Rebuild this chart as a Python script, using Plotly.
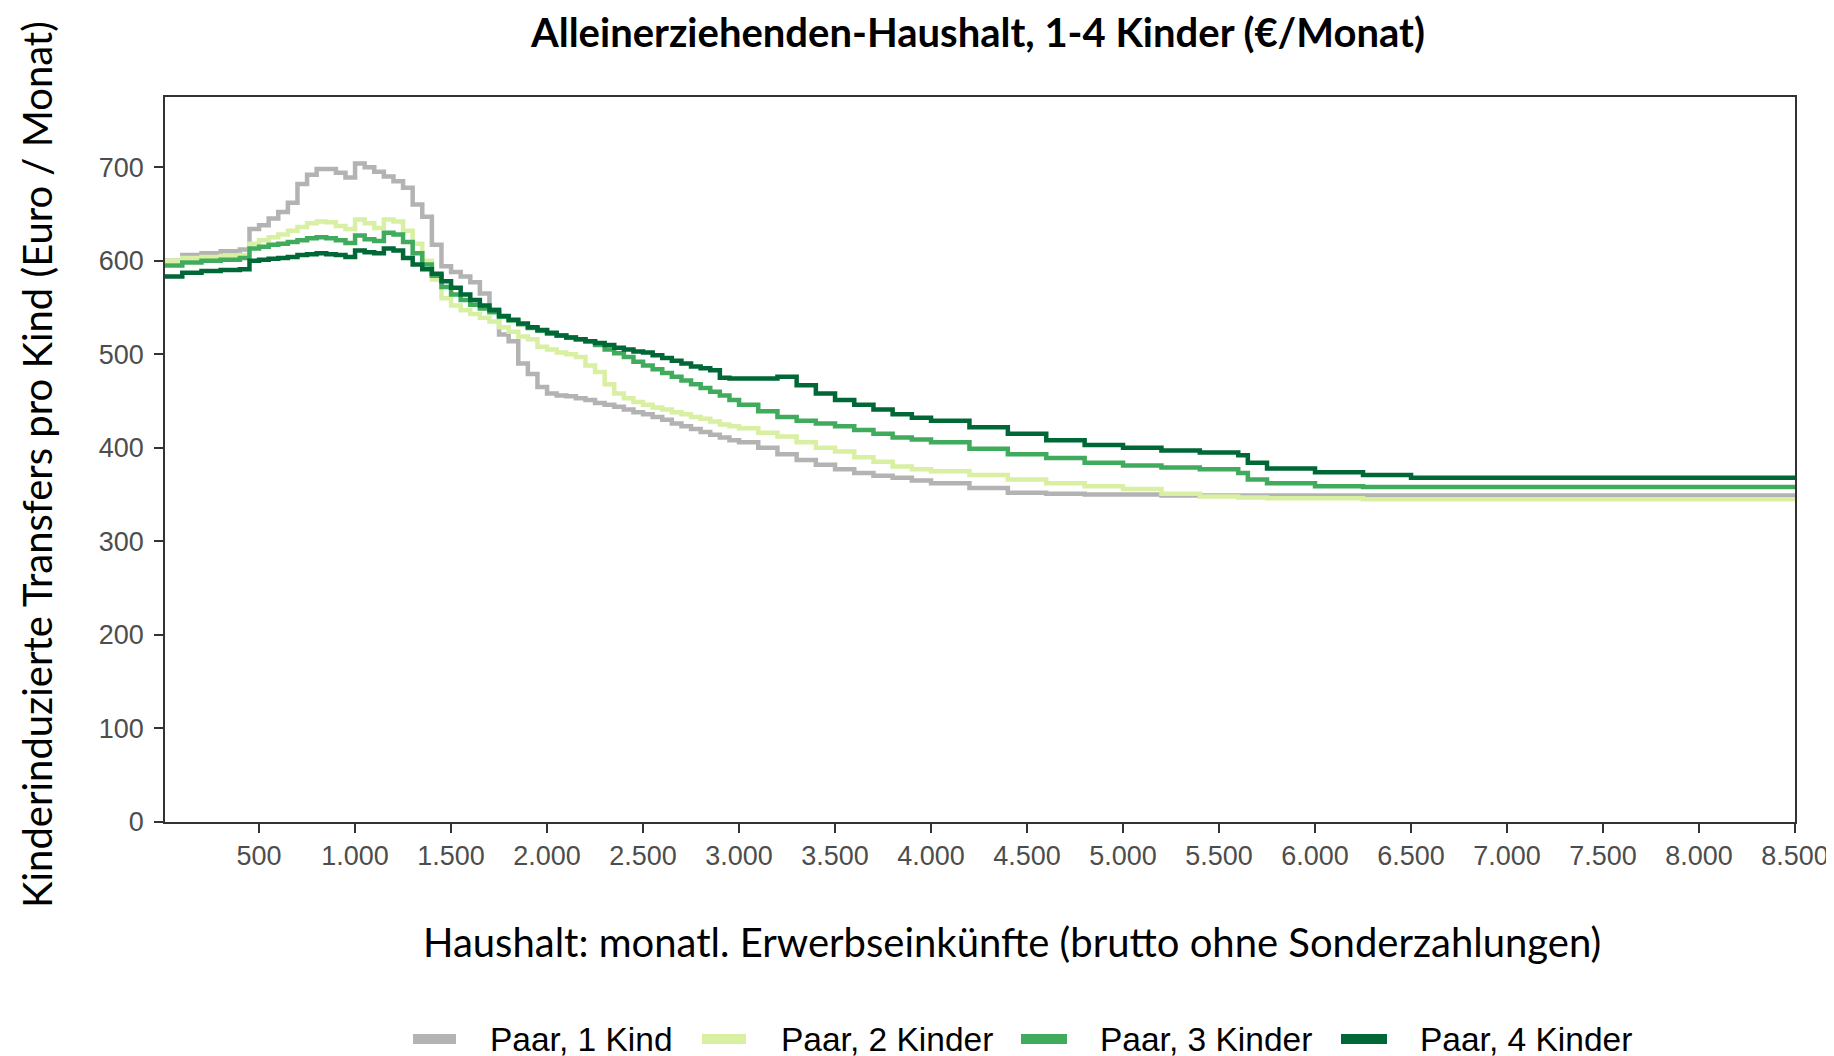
import plotly.graph_objects as go

# Einkommen (EUR/Monat), Stufen
einkommen = [10, 100, 200, 300, 400, 450, 500, 550, 600, 650, 700, 750, 800, 850, 900, 950,
             1000, 1050, 1100, 1150, 1200, 1250, 1300, 1350, 1400, 1450, 1500, 1550, 1600,
             1650, 1700, 1750, 1800, 1850, 1900, 1950,
             2000, 2050, 2100, 2150, 2200, 2250, 2300, 2350, 2400, 2450, 2500,
             2550, 2600, 2650, 2700, 2750, 2800, 2850, 2900, 2950,
             3000, 3100, 3200, 3300, 3400, 3500, 3600, 3700, 3800,
             3900, 4000, 4200, 4400, 4600, 4800, 5000, 5200, 5400, 5600, 5650, 5750, 6000,
             6250, 6500, 7000, 8500]

kind_1 = [600, 606, 608, 610, 612, 634, 638, 645, 652, 662, 682, 692, 698, 698, 694, 689,
          704, 700, 695, 690, 685, 678, 660, 647, 617, 594, 588, 583, 577,
          565, 548, 521, 514, 490, 479, 465,
          458, 456, 455, 453, 451, 448, 446, 444, 441, 438, 436,
          433, 430, 426, 423, 420, 417, 414, 411, 408,
          406, 400, 393, 387, 382, 377, 373, 370, 368,
          365, 362, 357, 352, 351, 350, 350, 349, 349, 349, 349, 349, 349,
          349, 349, 349, 349]

kinder_2 = [600, 603, 604, 605, 606, 618, 622, 625, 628, 632, 636, 640, 642, 641, 637, 634,
            644, 640, 635, 644, 642, 632, 618, 600, 580, 560, 552, 547, 543,
            539, 535, 529, 524, 519, 516, 508,
            505, 502, 500, 497, 488, 481, 468, 458, 453, 449, 446,
            443, 441, 438, 436, 433, 431, 428, 425, 423,
            421, 416, 412, 406, 400, 396, 390, 385, 380,
            377, 375, 371, 366, 362, 359, 356, 351, 348, 347, 347, 346, 346,
            345, 345, 345, 345]

kinder_3 = [595, 598, 600, 601, 603, 613, 615, 617, 618, 620, 622, 624, 625, 624, 622, 619,
            627, 623, 621, 630, 628, 620, 608, 596, 584, 572, 564, 558, 553,
            549, 545, 540, 536, 532, 528, 525,
            522, 520, 518, 516, 514, 510, 505, 501, 497, 492, 488,
            484, 480, 476, 472, 468, 464, 460, 456, 451,
            446, 439, 433, 429, 426, 423, 419, 415, 411,
            409, 406, 399, 393, 389, 384, 381, 379, 377, 373, 366, 362, 359,
            358, 358, 358, 358]

kinder_4 = [583, 587, 589, 590, 591, 600, 601, 602, 603, 604, 606, 607, 608, 607, 606, 604,
            611, 609, 608, 613, 611, 603, 596, 591, 586, 578, 571, 564, 558,
            552, 547, 541, 537, 533, 529, 526,
            523, 520, 518, 516, 514, 512, 510, 507, 505, 503, 502,
            499, 496, 493, 490, 487, 485, 483, 475, 474,
            474, 474, 476, 467, 458, 451, 446, 441, 436,
            432, 429, 422, 415, 408, 403, 400, 397, 395, 392, 384, 378, 374,
            371, 368, 368, 368]

namen = ["Paar, 1 Kind", "Paar, 2 Kinder", "Paar, 3 Kinder", "Paar, 4 Kinder"]
farben = ["#b3b3b3", "#d9f0a3", "#41ab5d", "#006837"]

x_ticks = [500, 1000, 1500, 2000, 2500, 3000, 3500, 4000, 4500, 5000, 5500, 6000, 6500,
           7000, 7500, 8000, 8500]
x_labels = ["500", "1.000", "1.500", "2.000", "2.500", "3.000", "3.500", "4.000", "4.500",
            "5.000", "5.500", "6.000", "6.500", "7.000", "7.500", "8.000", "8.500"]
y_ticks = [0, 100, 200, 300, 400, 500, 600, 700]

# Plotbereich im Fenster (px) -> Papierkoordinaten
PL, PW, PB, PH = 165, 1630, 822, 725


def px(wx):
    return (wx - PL) / PW


def py(wy):
    return (PB - wy) / PH


fig = go.Figure()

for name, werte, farbe in zip(namen, [kind_1, kinder_2, kinder_3, kinder_4], farben):
    fig.add_trace(go.Scatter(
        x=einkommen, y=werte, mode="lines", name=name,
        line=dict(color=farbe, width=4.5, shape="hv"), showlegend=False
    ))

axis_common = dict(
    showline=True, linecolor="#333333", linewidth=1.5, mirror=True,
    ticks="outside", ticklen=9, tickwidth=2, tickcolor="#333333",
    showgrid=False, zeroline=False, automargin=False,
    tickfont=dict(family="Liberation Sans, Arial", size=27, color="#4d4d4d"),
)

fig.update_xaxes(range=[10, 8500], tickvals=x_ticks, ticktext=x_labels,
                 ticklabelstandoff=0, **axis_common)
fig.update_yaxes(range=[0, 775], tickvals=y_ticks, ticklabelstandoff=5, **axis_common)

# Legende von Hand: Farbbalken + Text
swatch_x = [(413, 456), (702, 746), (1021, 1067), (1341, 1387)]
text_x = [488, 779, 1098, 1418]
legend_y = 1039

shapes = []
annotations = []
for (x0, x1), tx, name, farbe in zip(swatch_x, text_x, namen, farben):
    shapes.append(dict(type="line", xref="paper", yref="paper",
                       x0=px(x0), x1=px(x1), y0=py(legend_y), y1=py(legend_y),
                       line=dict(color=farbe, width=10)))
    annotations.append(dict(text=name, xref="paper", yref="paper", x=px(tx), y=py(legend_y),
                            showarrow=False, xanchor="left", yanchor="middle",
                            font=dict(family="Liberation Sans, Arial", size=33.5, color="black")))

calibri = "Lato, Open Sans, sans-serif"
annotations += [
    dict(text="<b>Alleinerziehenden-Haushalt, 1-4 Kinder (€/Monat)</b>",
         xref="paper", yref="paper", x=px(977), y=py(31.6), showarrow=False,
         xanchor="center", yanchor="middle",
         font=dict(family=calibri, size=40, color="black")),
    dict(text="Haushalt: monatl. Erwerbseinkünfte (brutto ohne Sonderzahlungen)",
         xref="paper", yref="paper", x=px(1012), y=py(941.5), showarrow=False,
         xanchor="center", yanchor="middle",
         font=dict(family=calibri, size=40, color="black")),
    dict(text="Kinderinduzierte Transfers pro Kind (Euro / Monat)",
         xref="paper", yref="paper", x=px(37), y=py(465), showarrow=False,
         xanchor="center", yanchor="middle", textangle=-90,
         font=dict(family=calibri, size=40, color="black")),
]

# die Seite hat 8px Rand, daher Plotbereich um 8px verschoben
fig.update_layout(
    width=1834, height=1056,
    margin=dict(l=157, r=47, t=89, b=242, autoexpand=False),
    paper_bgcolor="white", plot_bgcolor="white",
    showlegend=False,
    shapes=shapes,
    annotations=annotations,
)

fig.write_html("out.html")
